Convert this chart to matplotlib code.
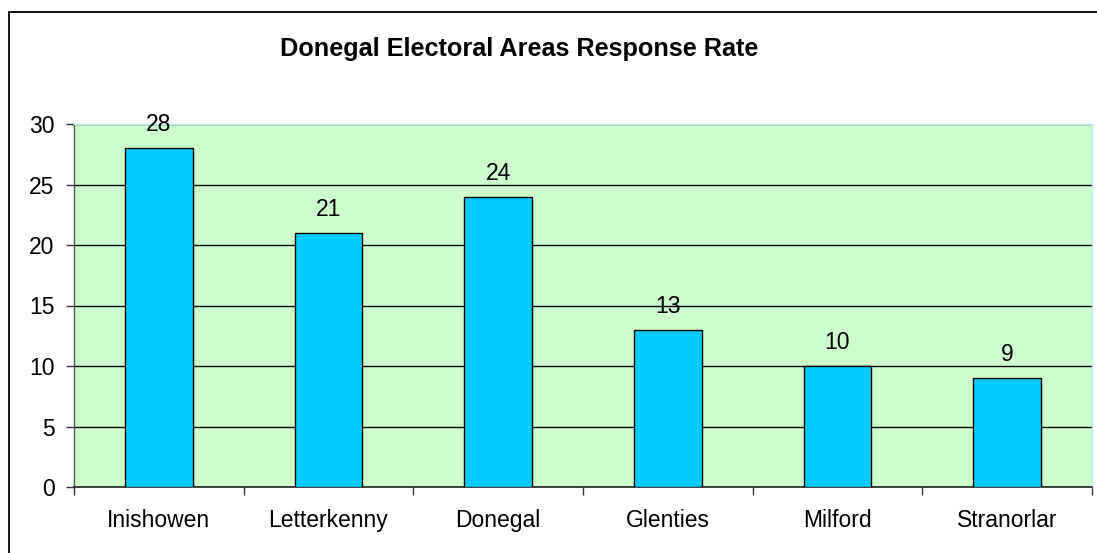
import matplotlib
matplotlib.use("Agg")
import matplotlib.pyplot as plt
from matplotlib.patches import Rectangle
import numpy as np

areas = ["Inishowen", "Letterkenny", "Donegal", "Glenties", "Milford", "Stranorlar"]
responses = [28, 21, 24, 13, 10, 9]
y_ticks = [0, 5, 10, 15, 20, 25, 30]
title = "Donegal Electoral Areas Response Rate"

plt.rcParams["font.family"] = ["Liberation Sans", "DejaVu Sans"]

W, H = 1097, 553
fig = plt.figure(figsize=(W / 100, H / 100), dpi=100)
fig.patch.set_facecolor("white")

# outer chart frame (runs off the right/bottom edge)
frame = Rectangle((9 / W, -0.05), 1.2, (H - 12) / H + 0.05, transform=fig.transFigure,
                  fill=False, edgecolor="black", linewidth=1.3, zorder=0)
fig.add_artist(frame)

ax = fig.add_axes([74 / W, (H - 487) / H, (1092 - 74) / W, (487 - 124) / H])
ax.set_facecolor("#CCFFCC")

x = np.arange(len(areas))
ax.bar(x, responses, width=0.4, color="#00CCFF", edgecolor="black", linewidth=1.0, zorder=3)

for xi, v in zip(x, responses):
    ax.text(xi, v + 1.0, str(v), ha="center", va="bottom", fontsize=16.5, color="black")

ax.set_xlim(-0.5, len(areas) - 0.5)
ax.set_ylim(0, 30)
ax.set_yticks(y_ticks)
ax.set_yticklabels([str(t) for t in y_ticks])
ax.yaxis.grid(True, color="black", linewidth=1.0, zorder=1)
ax.set_axisbelow(True)

# category labels centered, tick marks at category boundaries
ax.set_xticks(x)
ax.set_xticklabels(areas)
ax.tick_params(axis="x", which="major", length=0, pad=16, labelsize=16.5)
ax.set_xticks(np.arange(-0.5, len(areas), 1.0), minor=True)
ax.tick_params(axis="x", which="minor", length=6, width=1, color="#333333", direction="out")
ax.tick_params(axis="y", length=6, width=1, color="#333333", direction="out", pad=8, labelsize=16.5)

for side in ("top", "right"):
    ax.spines[side].set_color("#B8EEEE")
    ax.spines[side].set_linewidth(1.0)
ax.spines["left"].set_color("#555555")
ax.spines["bottom"].set_color("#222222")
ax.spines["left"].set_linewidth(1.0)
ax.spines["bottom"].set_linewidth(1.2)

fig.text(519 / W, 1 - 49 / H, title, ha="center", va="center", fontsize=18.2, fontweight="bold")

fig.savefig("out.png", dpi=100, facecolor="white")
